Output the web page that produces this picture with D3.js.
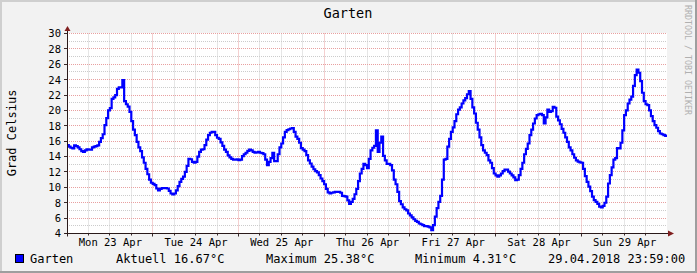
<!DOCTYPE html>
<html><head><meta charset="utf-8">
<script src="https://cdn.jsdelivr.net/npm/d3@7"></script>
<style>body{margin:0;background:#f2f2f2}svg{display:block}</style>
</head><body><svg id="c" width="697" height="273"></svg>
<script>
const title = "Garten";
const yLabel = "Grad Celsius";
const watermark = "RRDTOOL / TOBI OETIKER";
const seriesName = "Garten";
const startTime = "2018-04-23T00:00:00Z";
const endTime = "2018-04-30T00:00:00Z";
const stepHours = 0.5;
const mon = [15.5, 15.3, 15.15, 15.05, 15.45, 15.35, 15.2, 14.95, 14.7, 14.6, 14.8, 14.95, 14.9, 14.9, 15.2, 15.3, 15.35, 15.45, 15.9, 16.4, 16.9, 18.1, 19.0, 20.0,
  20.3, 21.5, 21.7, 22.0, 22.8, 23.0, 23.0, 23.95, 21.2, 20.8, 20.5, 19.8, 18.6, 17.5, 16.8, 15.9, 15.2, 14.7, 13.9, 13.2, 12.4, 11.7, 11.0, 10.6];
const tue = [10.45, 10.3, 9.85, 9.6, 9.8, 9.9, 9.9, 9.9, 9.85, 9.55, 9.2, 9.07, 9.2, 9.6, 10.15, 10.7, 11.1, 11.4, 12.0, 12.8, 13.7, 13.65, 13.3, 13.2,
  13.3, 14.0, 14.6, 14.9, 14.95, 15.5, 16.2, 16.8, 17.1, 17.2, 17.2, 16.8, 16.45, 16.3, 15.85, 15.4, 14.9, 14.6, 14.15, 13.9, 13.7, 13.6, 13.6, 13.65];
const wed = [13.55, 13.6, 14.05, 14.3, 14.5, 14.75, 14.9, 14.8, 14.6, 14.5, 14.55, 14.6, 14.5, 14.45, 14.3, 13.6, 12.9, 13.3, 13.8, 14.5, 13.4, 13.4, 14.3, 15.2,
  15.7, 16.5, 17.2, 17.45, 17.55, 17.65, 17.7, 17.2, 16.6, 16.3, 15.8, 15.1, 14.9, 14.7, 14.2, 13.5, 13.1, 12.7, 12.35, 12.1, 11.95, 11.6, 11.15, 10.8];
const thu = [10.4, 9.8, 9.35, 9.2, 9.3, 9.35, 9.4, 9.4, 9.4, 9.3, 8.9, 8.85, 8.8, 8.3, 7.85, 8.1, 8.5, 9.1, 9.8, 10.8, 11.8, 12.4, 13.05, 12.9,
  12.5, 13.7, 14.8, 15.15, 15.4, 17.4, 14.6, 15.8, 16.6, 14.1, 13.5, 13.05, 13.05, 12.9, 12.2, 11.0, 10.4, 9.4, 8.2, 7.8, 7.4, 7.15, 7.0, 6.6];
const fri = [6.35, 6.1, 5.85, 5.65, 5.5, 5.3, 5.2, 5.1, 4.95, 4.95, 4.9, 4.8, 4.45, 5.1, 6.2, 7.3, 8.1, 8.9, 11.0, 13.6, 13.7, 15.3, 16.3, 17.2,
  17.8, 18.6, 19.5, 20.1, 20.4, 20.9, 21.3, 21.6, 22.1, 22.5, 21.5, 20.4, 19.6, 18.4, 17.5, 16.5, 15.5, 14.8, 14.5, 14.2, 13.5, 13.2, 12.5, 11.8];
const sat = [11.55, 11.4, 11.55, 11.8, 12.1, 12.3, 12.3, 12.05, 11.8, 11.55, 11.3, 10.95, 11.0, 11.6, 12.4, 13.2, 14.3, 15.0, 15.7, 16.8, 17.5, 18.3, 18.95, 19.4,
  19.5, 19.55, 19.4, 18.3, 19.1, 20.1, 19.8, 19.9, 20.45, 20.35, 19.2, 18.7, 18.2, 17.6, 17.1, 16.5, 15.9, 15.2, 14.8, 14.3, 13.85, 13.5, 13.35, 13.25];
const sun = [13.2, 12.4, 11.45, 10.7, 10.1, 9.5, 8.8, 8.35, 8.1, 7.85, 7.5, 7.4, 7.6, 8.0, 8.8, 10.5, 11.6, 12.6, 13.6, 13.8, 15.1, 15.05, 15.8, 17.4,
  19.4, 20.0, 20.9, 21.4, 21.8, 23.2, 24.6, 25.3, 24.9, 23.8, 22.3, 21.2, 20.8, 20.7, 20.0, 19.25, 18.6, 18.1, 17.75, 17.3, 17.0, 16.9, 16.8, 16.7];
const dayLabels = ["Mon 23 Apr", "Tue 24 Apr", "Wed 25 Apr", "Thu 26 Apr", "Fri 27 Apr", "Sat 28 Apr", "Sun 29 Apr"];
const yTicks = [4, 6, 8, 10, 12, 14, 16, 18, 20, 22, 24, 26, 28, 30];
const yMinorTicks = [5, 7, 9, 11, 13, 15, 17, 19, 21, 23, 25, 27, 29];
const legendValues = ["Aktuell 16.67°C", "Maximum 25.38°C", "Minimum 4.31°C"];
const timestamp = "29.04.2018 23:59:00";

const temps = [].concat(mon, tue, wed, thu, fri, sat, sun);

const W = 697, H = 273;
const L = 67, R = 667, T = 33.5, B = 233.5;
const HOUR = 3600e3;
const t0 = new Date(startTime), t1 = new Date(endTime);

const svg = d3.select("#c");
const font = "'DejaVu Sans Mono', monospace";

svg.append("rect").attr("width", W).attr("height", H).attr("fill", "#f2f2f2");
svg.append("rect").attr("x", 0).attr("y", 0).attr("width", W).attr("height", 2).attr("fill", "#cfcfcf");
svg.append("rect").attr("x", 0).attr("y", 0).attr("width", 2).attr("height", H).attr("fill", "#cfcfcf");
svg.append("rect").attr("x", 0).attr("y", H - 2).attr("width", W).attr("height", 2).attr("fill", "#9e9e9e");
svg.append("rect").attr("x", W - 2).attr("y", 0).attr("width", 2).attr("height", H).attr("fill", "#9e9e9e");

const x = d3.scaleUtc().domain([t0, t1]).range([L, R]);
const y = d3.scaleLinear().domain([4, 30]).range([B, T]);
const crisp = v => Math.round(v - 0.5) + 0.5;

svg.append("rect").attr("x", L).attr("y", T - 0.5).attr("width", R - L).attr("height", B - T).attr("fill", "#fff");

const grid = svg.append("g");
const minorTimes = d3.utcHour.every(6).range(t0, t1).filter(d => d.getUTCHours() !== 0);
const majorTimes = d3.utcDay.range(d3.utcDay.offset(t0, 1), t1);
const minorCol = "#cccccc", majorCol = "#e8a0a0";
grid.selectAll(".vmin").data(minorTimes).enter().append("line")
  .attr("x1", d => crisp(x(d))).attr("x2", d => crisp(x(d)))
  .attr("y1", T).attr("y2", B)
  .attr("stroke", minorCol).attr("stroke-dasharray", "1,1");
grid.selectAll(".hmin").data(yMinorTicks).enter().append("line")
  .attr("y1", d => crisp(y(d))).attr("y2", d => crisp(y(d)))
  .attr("x1", L).attr("x2", R)
  .attr("stroke", minorCol).attr("stroke-dasharray", "1,1");
grid.selectAll(".vmaj").data(majorTimes).enter().append("line")
  .attr("x1", d => crisp(x(d))).attr("x2", d => crisp(x(d)))
  .attr("y1", T).attr("y2", B)
  .attr("stroke", majorCol).attr("stroke-dasharray", "1,1");
grid.selectAll(".hmaj").data(yTicks.filter(v => v !== 4)).enter().append("line")
  .attr("y1", d => crisp(y(d))).attr("y2", d => crisp(y(d)))
  .attr("x1", L).attr("x2", R)
  .attr("stroke", majorCol).attr("stroke-dasharray", "1,1");
grid.selectAll(".yt").data(yTicks).enter().append("line")
  .attr("y1", d => crisp(y(d))).attr("y2", d => crisp(y(d)))
  .attr("x1", L - 3).attr("x2", L)
  .attr("stroke", "#3a2a2a");
grid.selectAll(".xt").data(majorTimes.concat([t0])).enter().append("line")
  .attr("x1", d => crisp(x(d))).attr("x2", d => crisp(x(d)))
  .attr("y1", crisp(B)).attr("y2", crisp(B) + 3)
  .attr("stroke", "#3a2a2a");
grid.selectAll(".xtm").data(minorTimes).enter().append("line")
  .attr("x1", d => crisp(x(d))).attr("x2", d => crisp(x(d)))
  .attr("y1", crisp(B)).attr("y2", crisp(B) + 2)
  .attr("stroke", "#3a2a2a");

const pts = temps.map((v, i) => [new Date(t0.getTime() + i * stepHours * HOUR), v]);
pts.push([new Date(t0.getTime() + temps.length * stepHours * HOUR), temps[temps.length - 1]]);
svg.append("path").datum(pts)
  .attr("d", d3.line().x(d => x(d[0])).y(d => y(d[1])).curve(d3.curveStepAfter))
  .attr("fill", "none").attr("stroke", "#0000ff").attr("stroke-width", 2.2);

svg.append("line").attr("x1", crisp(L)).attr("x2", crisp(L)).attr("y1", crisp(B) + 2).attr("y2", 30)
  .attr("stroke", "#2a1a1a");
svg.append("line").attr("x1", L - 2).attr("x2", R + 2).attr("y1", crisp(B)).attr("y2", crisp(B))
  .attr("stroke", "#2a1a1a");
svg.append("path").attr("d", `M${crisp(L) - 3},${31} L${crisp(L) + 3},${31} L${crisp(L)},${26} Z`).attr("fill", "#801f1f");
svg.append("path").attr("d", `M${R + 1},${crisp(B) - 3} L${R + 1},${crisp(B) + 3} L${R + 7},${crisp(B)} Z`).attr("fill", "#801f1f");

const noonTimes = dayLabels.map((_, i) => new Date(t0.getTime() + (i * 24 + 12) * HOUR));
const xAxis = d3.axisBottom(x).tickValues(noonTimes).tickSize(0).tickPadding(0)
  .tickFormat((d, i) => dayLabels[i]);
const gx = svg.append("g").attr("transform", `translate(0,${B})`).call(xAxis);
gx.select(".domain").remove();
gx.selectAll("text").attr("font-family", font).attr("font-size", 10.5).attr("fill", "#000")
  .attr("dy", null).attr("y", 12.5);

const yAxis = d3.axisLeft(y).tickValues(yTicks).tickSize(0).tickPadding(0).tickFormat(d3.format("d"));
const gy = svg.append("g").attr("transform", `translate(${L - 6},0)`).call(yAxis);
gy.select(".domain").remove();
gy.selectAll("text").attr("font-family", font).attr("font-size", 10.5).attr("fill", "#000")
  .attr("dy", "0.32em").attr("x", 0);

svg.append("text").attr("x", 348).attr("y", 17.5).attr("text-anchor", "middle")
  .attr("font-family", font).attr("font-size", 13.5).attr("fill", "#000").text(title);
svg.append("text").attr("transform", "translate(15.5,133) rotate(-90)").attr("text-anchor", "middle")
  .attr("font-family", font).attr("font-size", 12).attr("fill", "#000").text(yLabel);
svg.append("text").attr("transform", "translate(684.5,5) rotate(90)").attr("text-anchor", "start")
  .attr("font-family", font).attr("font-size", 8.3).attr("fill", "#b0b0b0").text(watermark);

svg.append("rect").attr("x", 15.5).attr("y", 254.5).attr("width", 8).attr("height", 8)
  .attr("fill", "#0000ff").attr("stroke", "#000").attr("stroke-width", 1);
const legendX = [116, 266, 415];
const lg = svg.append("g").attr("font-family", font).attr("font-size", 12).attr("fill", "#000");
lg.append("text").attr("x", 30).attr("y", 263.3).text(seriesName);
legendValues.forEach((s, i) => lg.append("text").attr("x", legendX[i]).attr("y", 263.3).text(s));
lg.append("text").attr("x", 548).attr("y", 263.3).text(timestamp);
</script></body></html>
